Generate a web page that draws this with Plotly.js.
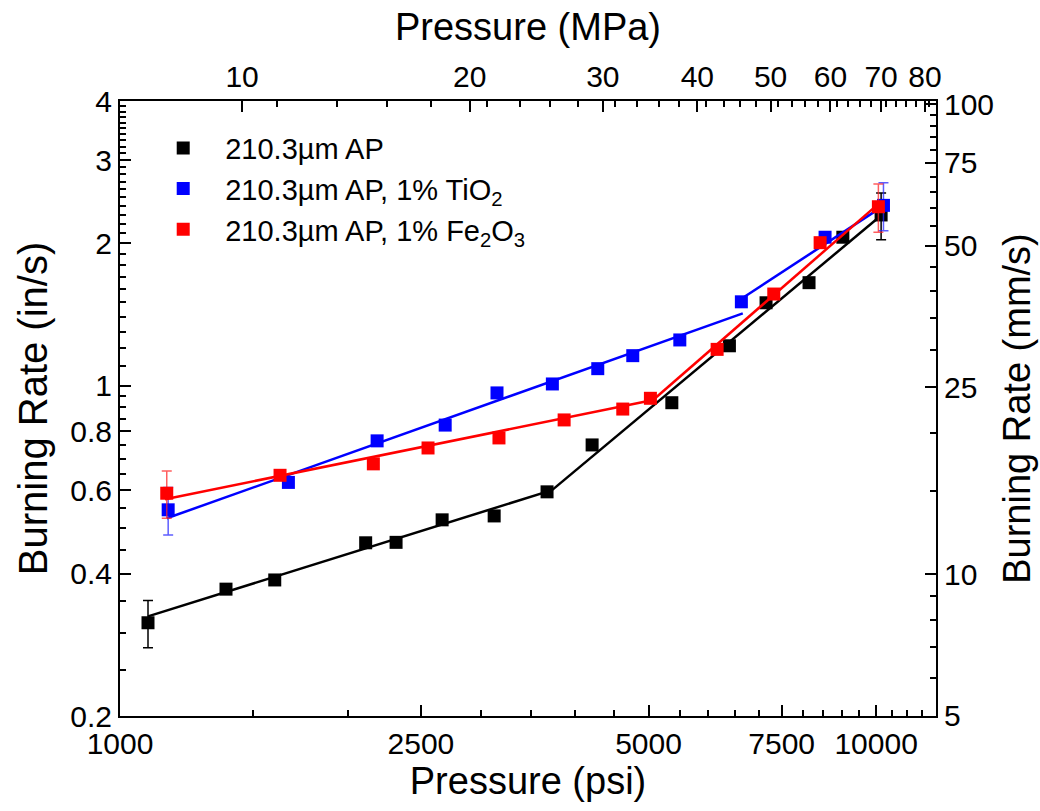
<!DOCTYPE html>
<html>
<head>
<meta charset="utf-8">
<script src="https://cdn.plot.ly/plotly-3.0.1.min.js"></script>
<style>
  html, body { margin: 0; padding: 0; background: #fff; }
  #chart { width: 1040px; height: 811px; }
</style>
</head>
<body>
<div id="chart"></div>
<script>
// ---- data (pressure in psi, burning rate in in/s) ----
const seriesNames = ['210.3µm AP', '210.3µm AP, 1% TiO<sub>2</sub>', '210.3µm AP, 1% Fe<sub>2</sub>O<sub>3</sub>'];

const blackPsi  = [1089, 1381, 1602, 2113, 2318, 2667, 3125, 3671, 4211, 5368, 6397, 7152, 8152, 9036, 10153];
const blackRate = [0.315, 0.371, 0.388, 0.465, 0.466, 0.520, 0.530, 0.596, 0.749, 0.920, 1.214, 1.497, 1.651, 2.06, 2.296];
const blackErr  = [0.036, NaN, NaN, NaN, NaN, NaN, NaN, NaN, NaN, NaN, NaN, NaN, NaN, NaN, 0.26];

const bluePsi  = [1158, 1670, 2188, 2692, 3152, 3731, 4284, 4766, 5500, 6634, 8560, 10226];
const blueRate = [0.546, 0.624, 0.764, 0.825, 0.965, 1.008, 1.086, 1.157, 1.249, 1.504, 2.06, 2.406];
const blueErr  = [0.063, NaN, NaN, NaN, NaN, NaN, NaN, NaN, NaN, NaN, NaN, 0.28];

const redPsi  = [1153, 1628, 2163, 2555, 3171, 3867, 4623, 5029, 6162, 7322, 8432, 10069];
const redRate = [0.592, 0.646, 0.683, 0.738, 0.775, 0.846, 0.892, 0.940, 1.193, 1.562, 2.006, 2.39];
const redErr  = [0.068, NaN, NaN, NaN, NaN, NaN, NaN, NaN, NaN, NaN, NaN, 0.28];

// fitted power-law segments (end points)
const blackFitLowPsi  = [1089, 3727];  const blackFitLowRate  = [0.325, 0.601];
const blackFitHighPsi = [3727, 10150]; const blackFitHighRate = [0.601, 2.29];
const blueFitLowPsi   = [1153, 6663];  const blueFitLowRate   = [0.524, 1.422];
const blueFitHighPsi  = [6643, 10226]; const blueFitHighRate  = [1.529, 2.40];
const redFitLowPsi    = [1147, 5070];  const redFitLowRate    = [0.575, 0.932];
const redFitHighPsi   = [5070, 10150]; const redFitHighRate   = [0.932, 2.45];

// ---- axes ticks ----
const psiTicks = [1000, 2500, 5000, 7500, 10000];
const psiTickText = ['1000', '2500', '5000', '7500', '10000'];
const mpaTicks = [10, 20, 30, 40, 50, 60, 70, 80];
const inTicks = [0.2, 0.4, 0.6, 0.8, 1, 2, 3, 4];
const inTickText = ['0.2', '0.4', '0.6', '0.8', '1', '2', '3', '4'];
const mmTicks = [5, 10, 25, 50, 75, 100];

const PSI_TO_MPA = 0.00689476;
const IN_TO_MM = 25.4;
const psiRange = [1000, 12000];
const inRange = [0.2, 4];
const mmRange = [4.99, 4 * IN_TO_MM];

// minor tick positions
const psiMinor = [];
for (let p = 1500; p <= 11500; p += 500) if (psiTicks.indexOf(p) < 0) psiMinor.push(p);
const mpaMinor = [];
for (let k = 10; k <= 80; k += 10) [1, 3, 5, 7].forEach(j => mpaMinor.push(k + j * 10 / 9));
const inMinor = [];
for (let v = 0.25; v < 0.999; v += 0.05) { const r = Math.round(v * 100) / 100; if (inTicks.indexOf(r) < 0) inMinor.push(r); }
for (let v = 1.1; v < 3.99; v += 0.1) { const r = Math.round(v * 10) / 10; if (inTicks.indexOf(r) < 0) inMinor.push(r); }
const mmMinor = [6, 7, 8, 9, 15, 20, 30, 35, 40, 45, 55, 60, 65, 70, 80, 85, 90, 95];

const FONT = 'Liberation Sans, Arial, Helvetica, sans-serif';
const BLUE = '#0000ff', RED = '#ff0000', BLACK = '#000000';

function pts(x, y, err, color, errColor, name) {
  return {
    x: x, y: y, name: name, type: 'scatter', mode: 'markers',
    marker: { symbol: 'square', size: 13, color: color },
    error_y: { type: 'data', array: err, visible: true, color: errColor, thickness: 1.5, width: 5 },
    cliponaxis: false
  };
}
function fit(x, y, color) {
  return { x: x, y: y, type: 'scatter', mode: 'lines', line: { color: color, width: 2.5 },
           showlegend: false, hoverinfo: 'skip' };
}

const data = [
  fit(blackFitLowPsi, blackFitLowRate, BLACK),
  fit(blackFitHighPsi, blackFitHighRate, BLACK),
  pts(blackPsi, blackRate, blackErr, BLACK, BLACK, seriesNames[0]),
  fit(blueFitLowPsi, blueFitLowRate, BLUE),
  fit(blueFitHighPsi, blueFitHighRate, BLUE),
  pts(bluePsi, blueRate, blueErr, BLUE, 'rgba(40,40,255,0.75)', seriesNames[1]),
  fit(redFitLowPsi, redFitLowRate, RED),
  fit(redFitHighPsi, redFitHighRate, RED),
  pts(redPsi, redRate, redErr, RED, 'rgba(255,40,40,0.75)', seriesNames[2]),
  { x: [], y: [], xaxis: 'x2', yaxis: 'y2', type: 'scatter', mode: 'markers', showlegend: false, hoverinfo: 'skip' }
];

const tickFont = { family: FONT, size: 30, color: '#000' };
const titleFont = { family: FONT, size: 38, color: '#000' };
const common = {
  showline: true, linecolor: '#000', linewidth: 2, mirror: false, showgrid: false, zeroline: false,
  ticks: 'inside', ticklen: 11, tickwidth: 2, tickcolor: '#000', tickfont: tickFont,
  tickmode: 'array', type: 'log', automargin: false, fixedrange: true
};
function minor(vals) {
  return { tickmode: 'array', tickvals: vals, ticks: 'inside', ticklen: 6, tickwidth: 2, tickcolor: '#000', showgrid: false };
}

const layout = {
  width: 1040, height: 811,
  margin: { l: 120, r: 104, t: 101, b: 95 },
  paper_bgcolor: '#fff', plot_bgcolor: '#fff',
  font: { family: FONT, color: '#000' },
  showlegend: true,
  legend: {
    x: 0.026, y: 0.965, xanchor: 'left', yanchor: 'top',
    font: { family: FONT, size: 29, color: '#000' },
    bgcolor: 'rgba(0,0,0,0)', borderwidth: 0, itemwidth: 74, tracegroupgap: 0
  },
  xaxis: Object.assign({}, common, {
    range: [Math.log10(psiRange[0]), Math.log10(psiRange[1])],
    tickvals: psiTicks, ticktext: psiTickText, tickangle: 0,
    minor: minor(psiMinor),
    title: { text: 'Pressure (psi)', font: titleFont, standoff: 6 }
  }),
  yaxis: Object.assign({}, common, {
    range: [Math.log10(inRange[0]), Math.log10(inRange[1])],
    tickvals: inTicks, ticktext: inTickText,
    minor: minor(inMinor),
    title: { text: 'Burning Rate (in/s)', font: { family: FONT, size: 40, color: '#000' }, standoff: 10 }
  }),
  xaxis2: Object.assign({}, common, {
    overlaying: 'x', side: 'top', anchor: 'y',
    range: [Math.log10(psiRange[0] * PSI_TO_MPA), Math.log10(psiRange[1] * PSI_TO_MPA)],
    tickvals: mpaTicks, ticktext: mpaTicks.map(String), tickangle: 0,
    minor: minor(mpaMinor),
    title: { text: 'Pressure (MPa)', font: titleFont, standoff: 8 }
  }),
  yaxis2: Object.assign({}, common, {
    overlaying: 'y', side: 'right', anchor: 'x',
    range: [Math.log10(mmRange[0]), Math.log10(mmRange[1])],
    tickvals: mmTicks, ticktext: mmTicks.map(String),
    minor: minor(mmMinor),
    title: { text: 'Burning Rate (mm/s)', font: titleFont, standoff: 10 }
  })
};

Plotly.newPlot('chart', data, layout, { staticPlot: true, displayModeBar: false });
</script>
</body>
</html>
